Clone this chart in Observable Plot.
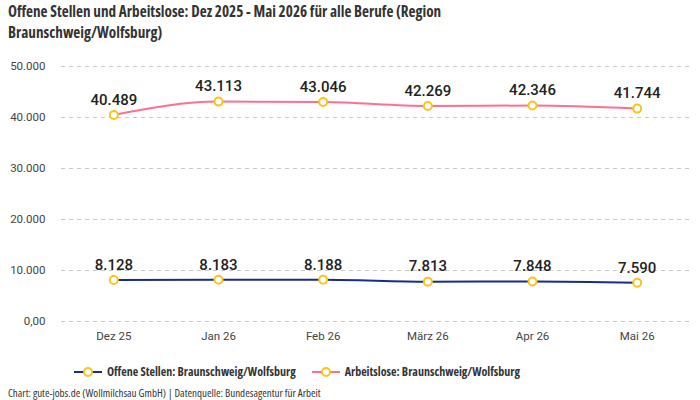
<!DOCTYPE html>
<html>
<head>
<meta charset="utf-8">
<script src="https://cdn.jsdelivr.net/npm/d3@7"></script>
<script src="https://cdn.jsdelivr.net/npm/@observablehq/plot@0.6"></script>
<style>
  body { margin: 0; width: 700px; height: 400px; background: #fff; font-family: "Open Sans", sans-serif; font-stretch: 75%; overflow: hidden; }
  #title { position: absolute; left: 8px; top: 1px; width: 445px; font-weight: bold; font-size: 15.2px; line-height: 21px; color: #333; }
  #chart { position: absolute; left: 0; top: 45px; font-stretch: 100%; }
  #legend { position: absolute; top: 363px; left: 74px; display: flex; gap: 16px; font-weight: bold; font-size: 12px; color: #333; align-items: center; }
  #legend .item { display: flex; align-items: center; gap: 5px; }
  #caption { position: absolute; left: 8px; top: 386px; font-size: 11px; line-height: 13px; color: #333; }
</style>
</head>
<body>
<div id="title">Offene Stellen und Arbeitslose: Dez 2025 - Mai 2026 für alle Berufe (Region Braunschweig/Wolfsburg)</div>
<div id="chart"></div>
<div id="legend"></div>
<div id="caption">Chart: gute-jobs.de (Wollmilchsau GmbH) | Datenquelle: Bundesagentur für Arbeit</div>
<script>
const months = ["Dez 25", "Jan 26", "Feb 26", "März 26", "Apr 26", "Mai 26"];
const offeneStellen = [8128, 8183, 8188, 7813, 7848, 7590];
const arbeitslose = [40489, 43113, 43046, 42269, 42346, 41744];
const seriesNames = ["Offene Stellen: Braunschweig/Wolfsburg", "Arbeitslose: Braunschweig/Wolfsburg"];
const seriesColors = ["#1a2b8f", "#ff6f8e"];
const pointColor = "#fcc419";
const yTicks = [0, 10000, 20000, 30000, 40000, 50000];

const de = d3.formatLocale({ decimal: ",", thousands: ".", grouping: [3] });
const fmt = de.format(",");

const rows = [
  ...months.map((m, i) => ({ month: m, value: offeneStellen[i], series: seriesNames[0] })),
  ...months.map((m, i) => ({ month: m, value: arbeitslose[i], series: seriesNames[1] }))
];

const chart = Plot.plot({
  width: 700,
  height: 310,
  marginLeft: 61,
  marginRight: 11,
  marginTop: 21,
  marginBottom: 34,
  style: { fontFamily: "Roboto, sans-serif", fontSize: "11.5px", color: "#444", fontStretch: "100%" },
  x: { type: "point", domain: months, padding: 0.5, round: false, label: null, tickSize: 0, tickPadding: 10 },
  y: { domain: [0, 50000], ticks: yTicks, label: null, tickSize: 0, tickPadding: 16,
       tickFormat: d => d === 0 ? "0,00" : fmt(d) },
  color: { domain: seriesNames, range: seriesColors },
  marks: [
    Plot.gridY(yTicks, { stroke: "#c8c8c8", strokeOpacity: 1, strokeDasharray: "4,4", strokeWidth: 1 }),
    Plot.line(rows, { x: "month", y: "value", stroke: "series", z: "series", curve: "monotone-x", strokeWidth: 2 }),
    Plot.dot(rows, { x: "month", y: "value", r: 4, fill: "white", stroke: pointColor, strokeWidth: 2 }),
    Plot.text(rows, { x: "month", y: "value", text: d => fmt(d.value), dy: -15, fontSize: 15, fontWeight: 500, fill: "#222" })
  ]
});
document.getElementById("chart").appendChild(chart);

// legend: line swatch with hollow point, then series name
const legend = d3.select("#legend");
seriesNames.forEach((name, i) => {
  const item = legend.append("div").attr("class", "item");
  const sw = item.append("svg").attr("width", 28).attr("height", 12);
  sw.append("line").attr("x1", 0).attr("x2", 28).attr("y1", 6).attr("y2", 6)
    .attr("stroke", seriesColors[i]).attr("stroke-width", 2);
  sw.append("circle").attr("cx", 14).attr("cy", 6).attr("r", 4)
    .attr("fill", "white").attr("stroke", pointColor).attr("stroke-width", 2);
  item.append("span").text(name);
});
</script>
</body>
</html>
